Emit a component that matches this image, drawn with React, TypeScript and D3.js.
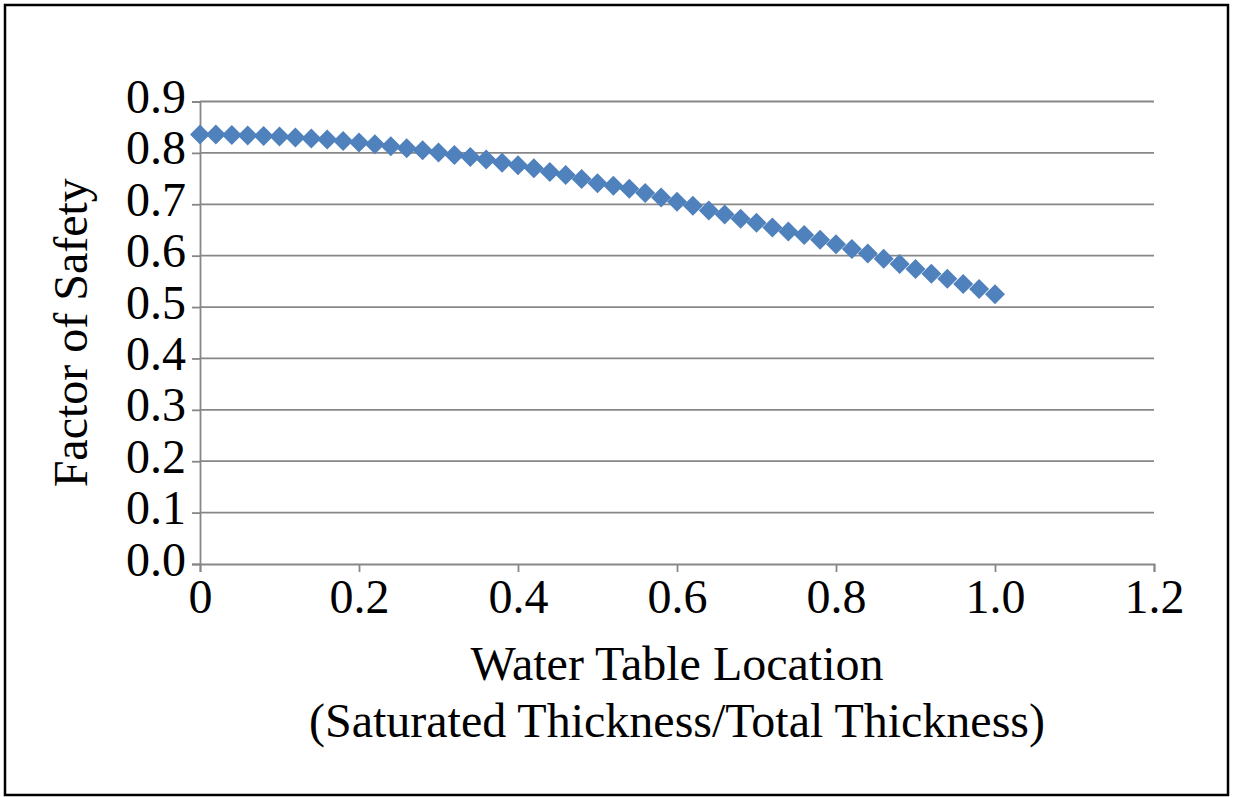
import React, { useLayoutEffect, useRef } from 'react';
import * as d3 from 'd3';

// water table location (saturated thickness / total thickness)
const location = [
  0, 0.02, 0.04, 0.06, 0.08, 0.1, 0.12, 0.14, 0.16, 0.18, 0.2, 0.22, 0.24,
  0.26, 0.28, 0.3, 0.32, 0.34, 0.36, 0.38, 0.4, 0.42, 0.44, 0.46, 0.48, 0.5,
  0.52, 0.54, 0.56, 0.58, 0.6, 0.62, 0.64, 0.66, 0.68, 0.7, 0.72, 0.74, 0.76,
  0.78, 0.8, 0.82, 0.84, 0.86, 0.88, 0.9, 0.92, 0.94, 0.96, 0.98, 1.0,
];

const factorOfSafety = [
  0.836, 0.836, 0.835, 0.834, 0.833, 0.832, 0.83, 0.828, 0.826, 0.823, 0.82,
  0.817, 0.813, 0.809, 0.805, 0.801, 0.796, 0.792, 0.787, 0.781, 0.776, 0.77,
  0.763, 0.757, 0.749, 0.741, 0.736, 0.73, 0.722, 0.713, 0.705, 0.697, 0.688,
  0.68, 0.672, 0.664, 0.655, 0.647, 0.64, 0.631, 0.622, 0.613, 0.604, 0.594,
  0.584, 0.574, 0.565, 0.555, 0.545, 0.535, 0.525,
];

const xTicks = [0, 0.2, 0.4, 0.6, 0.8, 1.0, 1.2];
const xTickLabels = ['0', '0.2', '0.4', '0.6', '0.8', '1.0', '1.2'];
const yTicks = [0, 0.1, 0.2, 0.3, 0.4, 0.5, 0.6, 0.7, 0.8, 0.9];
const yTickLabels = ['0.0', '0.1', '0.2', '0.3', '0.4', '0.5', '0.6', '0.7', '0.8', '0.9'];

const xTitle = ['Water Table Location', '(Saturated Thickness/Total Thickness)'];
const yTitle = 'Factor of Safety';

const width = 1233;
const height = 797;
const margin = { top: 101.5, left: 200, right: 79, bottom: 233 };
const font = '"Liberation Serif", "Times New Roman", Times, serif';
const fontSize = '48px';
const grey = '#878787';
const blue = '#4f81bd';

const drawChart = (container: HTMLDivElement) => {
  d3.select(container).selectAll('*').remove();
  const svg = d3
    .select(container)
    .append('svg')
    .attr('width', width)
    .attr('height', height)
    .style('position', 'absolute')
    .style('left', 0)
    .style('top', 0)
    .style('background', '#fff')
    .style('font-family', font);

  svg
    .append('rect')
    .attr('x', 5)
    .attr('y', 5)
    .attr('width', 1223)
    .attr('height', 790)
    .attr('fill', '#fff')
    .attr('stroke', '#000')
    .attr('stroke-width', 2.5);

  const x = d3
    .scaleLinear()
    .domain([0, 1.2])
    .range([margin.left, width - margin.right]);
  const y = d3
    .scaleLinear()
    .domain([0, 0.9])
    .range([height - margin.bottom, margin.top]);

  // gridlines
  svg
    .append('g')
    .selectAll('line')
    .data(yTicks.filter((t) => t > 0))
    .join('line')
    .attr('x1', x(0))
    .attr('x2', x(1.2))
    .attr('y1', (d) => y(d))
    .attr('y2', (d) => y(d))
    .attr('stroke', grey)
    .attr('stroke-width', 1.8);

  const yAxis = d3
    .axisLeft(y)
    .tickValues(yTicks)
    .tickSize(8)
    .tickFormat((_d, i) => yTickLabels[i]);
  const xAxis = d3
    .axisBottom(x)
    .tickValues(xTicks)
    .tickSize(8)
    .tickFormat((_d, i) => xTickLabels[i]);

  const yG = svg
    .append('g')
    .attr('transform', `translate(${x(0)},0)`)
    .call(yAxis);
  const xG = svg
    .append('g')
    .attr('transform', `translate(0,${y(0)})`)
    .call(xAxis);

  [yG, xG].forEach((g) => {
    g.attr('font-family', font).attr('font-size', fontSize);
    g.select('.domain').attr('stroke', grey).attr('stroke-width', 1.8);
    g.selectAll('.tick line').attr('stroke', grey).attr('stroke-width', 1.8);
    g.selectAll('.tick text').attr('fill', '#000');
  });
  yG.selectAll('.tick text').attr('x', -14).attr('dy', null).attr('y', 11);
  xG.selectAll('.tick text').attr('dy', null).attr('y', 49);

  // diamonds
  const r = 10;
  svg
    .append('g')
    .selectAll('path')
    .data(location)
    .join('path')
    .attr('d', `M0,${-r}L${r},0L0,${r}L${-r},0Z`)
    .attr('transform', (d, i) => `translate(${x(d)},${y(factorOfSafety[i])})`)
    .attr('fill', blue);

  // titles
  const cx = (x(0) + x(1.2)) / 2;
  svg
    .append('g')
    .selectAll('text')
    .data(xTitle)
    .join('text')
    .attr('x', cx)
    .attr('y', (_d, i) => 680 + i * 57)
    .attr('text-anchor', 'middle')
    .attr('font-family', font)
    .attr('font-size', fontSize)
    .text((d) => d);

  svg
    .append('text')
    .attr('transform', `translate(87,${(y(0) + y(0.9)) / 2}) rotate(-90)`)
    .attr('text-anchor', 'middle')
    .attr('font-family', font)
    .attr('font-size', fontSize)
    .text(yTitle);
};

export default function App() {
  const rootEl = useRef<HTMLDivElement>(null);

  useLayoutEffect(() => {
    if (rootEl.current) drawChart(rootEl.current);
  }, []);

  return <div className="chart-container" ref={rootEl} />;
}
